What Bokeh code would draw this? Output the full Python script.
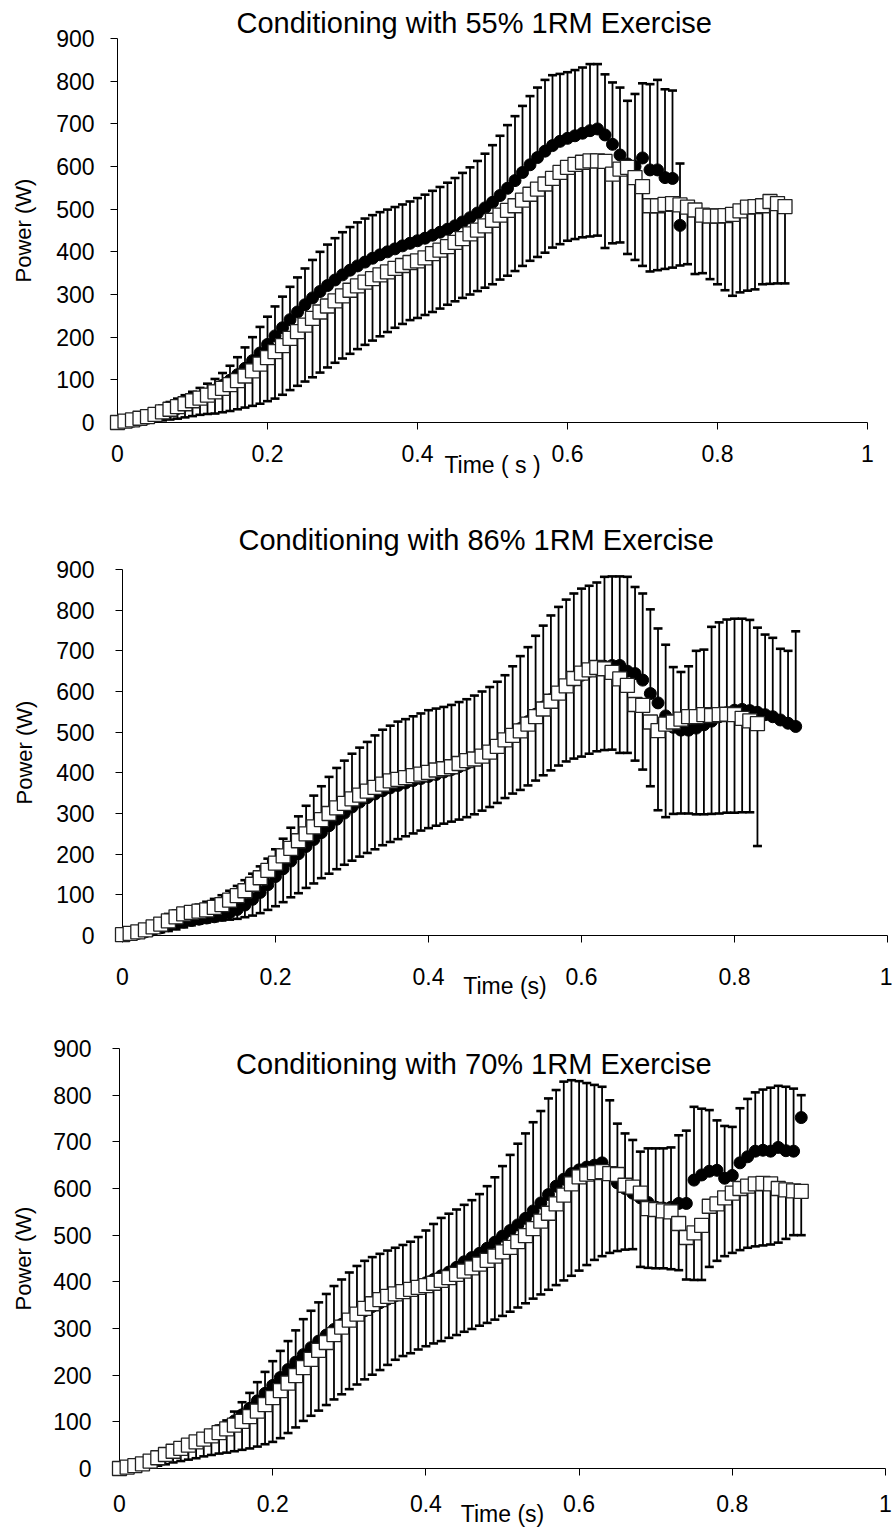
from bokeh.plotting import figure
from bokeh.models import Range1d, FixedTicker, Label, NumeralTickFormatter, Title
from bokeh.layouts import column
from bokeh.embed import file_html
from bokeh.resources import INLINE

FONT = "Liberation Sans"

TIME = [0.00, 0.01, 0.02, 0.03, 0.04, 0.05, 0.06, 0.07, 0.08, 0.09,
        0.10, 0.11, 0.12, 0.13, 0.14, 0.15, 0.16, 0.17, 0.18, 0.19,
        0.20, 0.21, 0.22, 0.23, 0.24, 0.25, 0.26, 0.27, 0.28, 0.29,
        0.30, 0.31, 0.32, 0.33, 0.34, 0.35, 0.36, 0.37, 0.38, 0.39,
        0.40, 0.41, 0.42, 0.43, 0.44, 0.45, 0.46, 0.47, 0.48, 0.49,
        0.50, 0.51, 0.52, 0.53, 0.54, 0.55, 0.56, 0.57, 0.58, 0.59,
        0.60, 0.61, 0.62, 0.63, 0.64, 0.65, 0.66, 0.67, 0.68, 0.69,
        0.70, 0.71, 0.72, 0.73, 0.74, 0.75, 0.76, 0.77, 0.78, 0.79,
        0.80, 0.81, 0.82, 0.83, 0.84, 0.85, 0.86, 0.87, 0.88, 0.89]

X_TICKS = [0, 0.2, 0.4, 0.6, 0.8, 1]
Y_TICKS = [0, 100, 200, 300, 400, 500, 600, 700, 800, 900]

TITLES = ["Conditioning with 55% 1RM Exercise",
          "Conditioning with 86% 1RM Exercise",
          "Conditioning with 70% 1RM Exercise"]
X_LABELS = ["Time ( s )", "Time (s)", "Time (s)"]
Y_LABEL = "Power (W)"

# ---- Panel 1 (55% 1RM) ----
p1_circ_mean = [0, 1, 3, 6, 10, 15, 20, 26, 33, 41,
                49, 57, 66, 76, 87, 99, 112, 127, 145, 163,
                183, 203, 222, 241, 259, 276, 292, 307, 321, 334,
                346, 357, 367, 376, 385, 393, 400, 407, 414, 420,
                426, 432, 439, 446, 453, 461, 470, 480, 491, 503,
                516, 532, 549, 567, 586, 604, 621, 636, 649, 659,
                666, 672, 678, 684, 688, 674, 652, 627, 606, 600,
                620, 592, 592, 574, 572, 462]
p1_circ_upper = [2, 5, 10, 16, 24, 32, 40, 48, 56, 64,
                 72, 81, 91, 102, 116, 133, 153, 176, 200, 224,
                 248, 272, 295, 318, 340, 361, 381, 400, 417, 432,
                 446, 458, 469, 478, 486, 493, 499, 505, 511, 518,
                 526, 534, 543, 552, 562, 573, 585, 598, 613, 630,
                 650, 672, 697, 718, 742, 765, 785, 803, 814, 817,
                 821, 826, 832, 840, 840, 816, 797, 785, 754, 770,
                 795, 793, 803, 781, 778, 607]
p1_sq_mean = [0, 3, 6, 10, 14, 19, 25, 31, 37, 44,
              51, 57, 64, 72, 80, 89, 98, 109, 121, 137,
              152, 166, 180, 197, 213, 228, 244, 259, 273, 285,
              297, 310, 320, 329, 337, 346, 353, 361, 368, 375,
              379, 386, 396, 404, 412, 422, 431, 442, 451, 461,
              474, 486, 497, 508, 521, 535, 547, 559, 572, 586,
              598, 605, 610, 613, 613, 612, 582, 594, 598, 574,
              553, 508, 508, 511, 513, 510, 505, 498, 486, 484,
              484, 485, 488, 496, 505, 506, 508, 518, 513, 506]
p1_sq_lower = [0, 0, 1, 2, 3, 4, 5, 7, 9, 12,
               15, 18, 20, 21, 24, 27, 31, 35, 39, 44,
               50, 56, 65, 76, 86, 96, 106, 117, 129, 140,
               150, 161, 172, 182, 192, 202, 212, 222, 231, 240,
               245, 252, 259, 267, 276, 284, 292, 300, 308, 316,
               324, 335, 344, 355, 367, 379, 388, 398, 410, 418,
               426, 430, 434, 436, 438, 409, 420, 422, 395, 381,
               367, 354, 357, 360, 363, 368, 371, 348, 350, 336,
               324, 310, 297, 305, 309, 312, 324, 325, 326, 326]

# ---- Panel 2 (86% 1RM) ----
p2_circ_mean = [0, 2, 5, 9, 14, 19, 24, 29, 33, 37,
                40, 43, 46, 50, 56, 64, 75, 89, 106, 125,
                145, 164, 183, 201, 219, 236, 253, 270, 286, 301,
                316, 328, 339, 348, 356, 363, 369, 375, 381, 386,
                391, 396, 402, 408, 415, 423, 432, 442, 453, 465,
                478, 493, 509, 526, 544, 562, 580, 598, 614, 628,
                640, 650, 657, 662, 664, 664, 650, 644, 628, 595,
                572, 540, 512, 505, 505, 510, 518, 527, 538, 548,
                554, 556, 553, 549, 543, 538, 530, 522, 514]
p2_circ_upper = [2, 6, 12, 20, 30, 42, 53, 62, 67, 71,
                 76, 83, 90, 99, 110, 122, 136, 152, 170, 189,
                 212, 238, 265, 293, 319, 344, 367, 390, 412, 430,
                 447, 462, 476, 492, 506, 516, 526, 532, 539, 546,
                 554, 558, 562, 567, 574, 581, 590, 600, 611, 624,
                 640, 662, 687, 709, 737, 762, 787, 808, 826, 841,
                 853, 860, 868, 882, 883, 883, 882, 857, 841, 802,
                 755, 715, 660, 648, 662, 700, 703, 759, 770, 777,
                 779, 779, 776, 757, 740, 732, 705, 700, 748]
p2_sq_mean = [2, 5, 9, 14, 21, 28, 36, 46, 53, 57,
              60, 63, 69, 76, 87, 98, 110, 126, 142, 160,
              178, 196, 214, 233, 250, 267, 285, 300, 314, 325,
              336, 345, 355, 364, 372, 380, 384, 388, 393, 397,
              401, 407, 410, 415, 423, 430, 434, 441, 451, 465,
              481, 492, 503, 520, 538, 557, 576, 596, 614, 632,
              645, 653, 659, 656, 647, 631, 615, 568, 566, 525,
              504, 520, 525, 532, 538, 538, 543, 541, 543, 544,
              543, 534, 528, 521]
p2_sq_lower = [0, 0, 1, 3, 5, 8, 11, 15, 20, 25,
               29, 32, 35, 37, 39, 41, 45, 49, 55, 63,
               72, 82, 94, 104, 117, 128, 141, 152, 163, 174,
               184, 194, 203, 212, 222, 230, 237, 244, 251, 258,
               264, 270, 275, 280, 285, 291, 298, 307, 316, 326,
               338, 349, 358, 369, 381, 394, 406, 418, 428, 435,
               440, 447, 453, 456, 457, 449, 449, 430, 408, 367,
               308, 291, 299, 300, 300, 298, 298, 299, 300, 302,
               302, 303, 303, 220]

# ---- Panel 3 (70% 1RM) ----
p3_circ_mean = [0, 2, 5, 10, 16, 22, 29, 36, 43, 50,
                57, 64, 72, 81, 91, 102, 115, 129, 145, 161,
                178, 195, 212, 228, 244, 259, 273, 286, 298, 309,
                319, 329, 338, 347, 355, 363, 370, 377, 384, 391,
                398, 405, 413, 421, 431, 443, 452, 461, 472, 485,
                498, 510, 522, 536, 552, 569, 587, 605, 620, 632,
                640, 646, 650, 655, 635, 612, 600, 590, 580, 570,
                560, 558, 560, 568, 568, 618, 629, 637, 639, 622,
                628, 655, 668, 680, 682, 680, 688, 681, 680, 752]
p3_circ_upper = [1, 5, 10, 17, 25, 33, 40, 47, 53, 59,
                 66, 74, 82, 92, 103, 122, 142, 162, 185, 207,
                 230, 252, 273, 296, 320, 338, 356, 374, 391, 405,
                 420, 434, 445, 453, 460, 467, 473, 479, 486, 496,
                 510, 524, 537, 546, 555, 565, 575, 588, 605, 624,
                 648, 672, 696, 718, 742, 766, 793, 811, 829, 832,
                 830, 826, 822, 818, 789, 739, 718, 704, 679, 686,
                 686, 686, 688, 714, 724, 775, 771, 768, 746, 734,
                 732, 772, 792, 806, 812, 816, 820, 818, 814, 800]
p3_sq_mean = [0, 3, 6, 10, 16, 23, 30, 37, 43, 50,
              57, 63, 70, 77, 85, 93, 101, 111, 123, 137,
              152, 167, 183, 199, 216, 234, 253, 270, 287, 303,
              318, 331, 343, 353, 362, 369, 374, 379, 384, 388,
              392, 397, 403, 409, 416, 423, 430, 438, 446, 455,
              464, 474, 486, 499, 514, 530, 547, 567, 586, 610,
              625, 631, 634, 636, 632, 630, 607, 603, 590, 557,
              555, 552, 550, 525, 495, 505, 521, 562, 567, 580,
              590, 600, 605, 610, 611, 610, 600, 597, 595, 594]
p3_sq_lower = [0, 0, 1, 2, 3, 6, 9, 13, 16, 19,
               22, 26, 29, 32, 34, 37, 40, 43, 47, 52,
               57, 65, 76, 88, 102, 113, 124, 136, 148, 159,
               170, 180, 191, 201, 211, 222, 233, 241, 247, 255,
               262, 268, 273, 280, 286, 293, 299, 306, 312, 319,
               327, 336, 345, 354, 364, 373, 383, 393, 403, 413,
               424, 436, 447, 455, 462, 466, 469, 470, 432, 430,
               429, 429, 427, 425, 405, 404, 404, 432, 445, 455,
               462, 468, 473, 476, 478, 480, 484, 492, 500, 500]

PANELS = [
    dict(cm=p1_circ_mean, cu=p1_circ_upper, sm=p1_sq_mean, sl=p1_sq_lower,
         h=500, bl=117, br=25, bt=38, bb=78, ystand=16, xstand=15, als=17, xals=-13,
         title=dict(offset=119, standoff=0), label_xy=None),
    dict(cm=p2_circ_mean, cu=p2_circ_upper, sm=p2_sq_mean, sl=p2_sq_lower,
         h=510, bl=122, br=5, bt=69, bb=75, ystand=21, xstand=25, als=16, xals=-15,
         title=dict(offset=116, standoff=28), label_xy=None),
    dict(cm=p3_circ_mean, cu=p3_circ_upper, sm=p3_sq_mean, sl=p3_sq_lower,
         h=525, bl=119, br=7, bt=38, bb=67, ystand=21, xstand=19, als=14, xals=-14,
         title=None, label_xy=(0.4626, 867.8)),
]


def make_panel(i, cfg):
    p = figure(width=892, height=cfg["h"], x_range=Range1d(0, 1), y_range=Range1d(0, 900),
               output_backend="svg", toolbar_location=None,
               min_border_left=cfg["bl"], min_border_right=cfg["br"],
               min_border_top=cfg["bt"], min_border_bottom=cfg["bb"])
    p.outline_line_color = None
    p.xgrid.visible = False
    p.ygrid.visible = False
    p.background_fill_color = "white"
    p.border_fill_color = "white"

    for ax in (p.xaxis[0], p.yaxis[0]):
        ax.axis_line_color = "black"
        ax.axis_line_width = 1
        ax.major_tick_line_color = "black"
        ax.major_tick_out = 7
        ax.major_tick_in = 0
        ax.minor_tick_out = 0
        ax.minor_tick_in = 0
        ax.major_label_text_font = FONT
        ax.major_label_text_font_size = "23px"
        ax.major_label_text_color = "black"

    xa = p.xaxis[0]
    xa.ticker = FixedTicker(ticks=X_TICKS)
    xa.formatter = NumeralTickFormatter(format="0.[0]")
    xa.major_label_standoff = cfg["xstand"]
    xa.axis_label = X_LABELS[i]
    xa.axis_label_text_font = FONT
    xa.axis_label_text_font_style = "normal"
    xa.axis_label_text_font_size = "23px"
    xa.axis_label_text_color = "black"
    xa.axis_label_standoff = cfg["xals"]

    ya = p.yaxis[0]
    ya.ticker = FixedTicker(ticks=Y_TICKS)
    ya.major_label_standoff = cfg["ystand"]
    ya.axis_label = Y_LABEL
    ya.axis_label_text_font = FONT
    ya.axis_label_text_font_style = "normal"
    ya.axis_label_text_font_size = "22px"
    ya.axis_label_text_color = "black"
    ya.axis_label_standoff = cfg["als"]

    tc = TIME[:len(cfg["cm"])]
    ts = TIME[:len(cfg["sm"])]

    rs = []
    # circles: upward error bars
    rs.append(p.segment(x0=tc, y0=cfg["cm"], x1=tc, y1=cfg["cu"], line_color="black", line_width=1.8))
    rs.append(p.scatter(x=tc, y=cfg["cu"], marker="dash", size=9, line_color="black", line_width=2.6))
    rs.append(p.scatter(x=tc, y=cfg["cm"], marker="circle", size=12, fill_color="black", line_color="black"))
    # squares: downward error bars
    rs.append(p.segment(x0=ts, y0=cfg["sm"], x1=ts, y1=cfg["sl"], line_color="black", line_width=1.8))
    rs.append(p.scatter(x=ts, y=cfg["sl"], marker="dash", size=9, line_color="black", line_width=2.6))
    rs.append(p.scatter(x=ts, y=cfg["sm"], marker="square", size=14, fill_color="white",
                        line_color="#222222", line_width=1.3))
    for r in rs:
        r.level = "overlay"

    if cfg["title"] is not None:
        p.add_layout(Title(text=TITLES[i], align="left", offset=cfg["title"]["offset"],
                           standoff=cfg["title"]["standoff"], text_font=FONT,
                           text_font_size="29px", text_font_style="normal",
                           text_color="black"), "above")
    else:
        lx, ly = cfg["label_xy"]
        p.add_layout(Label(x=lx, y=ly, text=TITLES[i], text_align="center",
                           text_baseline="alphabetic", text_font=FONT,
                           text_font_size="29px", text_color="black"))
    return p


figs = [make_panel(i, c) for i, c in enumerate(PANELS)]
layout = column(column(figs[0]), column(figs[1]), column(figs[2]))

with open("out.html", "w") as f:
    f.write(file_html(layout, INLINE))
